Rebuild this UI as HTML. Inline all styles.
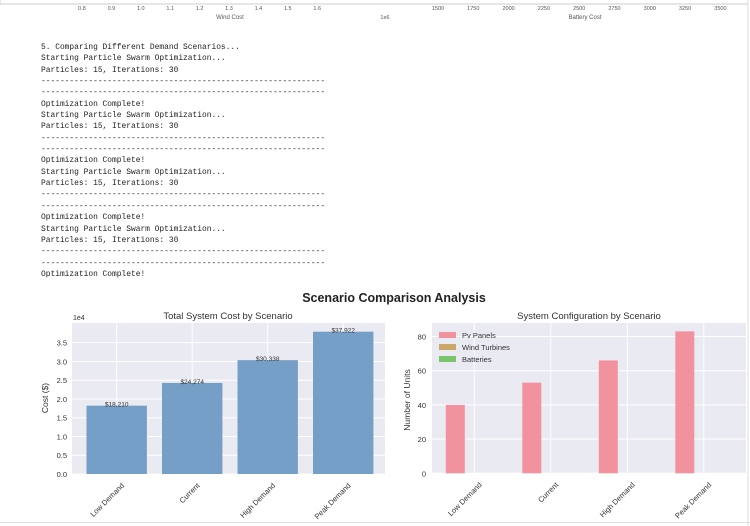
<!DOCTYPE html>
<html><head><meta charset="utf-8"><style>
body{margin:0;width:750px;height:526px;background:#fff;position:relative;overflow:hidden;font-family:"Liberation Sans",sans-serif}
#log{position:absolute;left:41px;top:42px;font-family:"Liberation Mono",monospace;font-size:7.9px;line-height:11.35px;white-space:pre;color:#222;margin:0}
svg{position:absolute;left:0;top:0}
</style></head><body>
<pre id="log">5. Comparing Different Demand Scenarios...
Starting Particle Swarm Optimization...
Particles: 15, Iterations: 30
------------------------------------------------------------
------------------------------------------------------------
Optimization Complete!
Starting Particle Swarm Optimization...
Particles: 15, Iterations: 30
------------------------------------------------------------
------------------------------------------------------------
Optimization Complete!
Starting Particle Swarm Optimization...
Particles: 15, Iterations: 30
------------------------------------------------------------
------------------------------------------------------------
Optimization Complete!
Starting Particle Swarm Optimization...
Particles: 15, Iterations: 30
------------------------------------------------------------
------------------------------------------------------------
Optimization Complete!</pre>
<svg id="chart" width="750" height="526"></svg>
<script>
const categories=["Low Demand","Current","High Demand","Peak Demand"];
const costValues=[18210,24274,30338,37922];
const costLabels=["$18,210","$24,274","$30,338","$37,922"];
const costTicks=[0,5000,10000,15000,20000,25000,30000,35000];
const pvValues=[40,53,66,83];
const windValues=[0,0,0,0];
const batteryValues=[0,0,0,0];
const unitTicks=[0,20,40,60,80];
const topTicksA=["0.8","0.9","1.0","1.1","1.2","1.3","1.4","1.5","1.6"];
const topTicksB=["1500","1750","2000","2250","2500","2750","3000","3250","3500"];

const svg=document.getElementById('chart');
const NS='http://www.w3.org/2000/svg';
function mk(tag,attrs,parent){const e=document.createElementNS(NS,tag);for(const k in attrs)e.setAttribute(k,attrs[k]);(parent||svg).appendChild(e);return e;}
function txt(s,attrs){const e=mk('text',attrs);e.textContent=s;return e;}

// top strip from previous figure
let e=mk('rect',{x:0,y:-2,width:748,height:6,fill:'#fff',stroke:'#ccc'});


topTicksA.forEach((t,i)=>{const el=txt(t,{x:82+i*29.4,y:10,'font-size':5.5,fill:'#555','text-anchor':'middle'});

});
topTicksB.forEach((t,i)=>{const el=txt(t,{x:438+i*35.3,y:10,'font-size':5.5,fill:'#555','text-anchor':'middle'});

});
e=txt('Wind Cost',{x:230,y:19,'font-size':6,fill:'#555','text-anchor':'middle'});


e=txt('1e6',{x:385,y:19,'font-size':5.5,fill:'#555','text-anchor':'middle'});


e=txt('Battery Cost',{x:585,y:19,'font-size':6,fill:'#555','text-anchor':'middle'});


e=mk('line',{x1:748,y1:0,x2:748,y2:526,stroke:'#ddd'});


e=mk('line',{x1:0,y1:522.5,x2:750,y2:522.5,stroke:'#ddd'});



e=txt('Scenario Comparison Analysis',{x:394,y:302,'font-size':12.5,'font-weight':'bold',fill:'#222','text-anchor':'middle'});



// left chart
const L={x0:72,x1:385,y0:474,top:323};
const ly=v=>L.y0-v/5000*18.76;
const lx=i=>116.7+i*75.5;
e=mk('rect',{x:L.x0,y:L.top,width:L.x1-L.x0,height:L.y0-L.top,fill:'#eaeaf2'});


costTicks.forEach(t=>{const g=mk('line',{x1:L.x0,x2:L.x1,y1:ly(t),y2:ly(t),stroke:'#fff','stroke-width':1});


const l=txt((t/10000).toFixed(1),{x:L.x0-5,y:ly(t)+3,'font-size':7.5,fill:'#333','text-anchor':'end'});

});
categories.forEach((c,i)=>{const g=mk('line',{x1:lx(i),x2:lx(i),y1:L.top,y2:L.y0,stroke:'#fff'});

});
categories.forEach((c,i)=>{
 const b=mk('rect',{x:lx(i)-30.2,y:ly(costValues[i]),width:60.4,height:L.y0-ly(costValues[i]),fill:'#759fc7'});
 
 
 const v=txt(costLabels[i],{x:lx(i),y:ly(costValues[i])+1,'font-size':6.5,fill:'#333','text-anchor':'middle'});
 
 
 const t=txt(c,{x:lx(i)+8,y:L.y0+12,'font-size':7.5,fill:'#333','text-anchor':'end',transform:`rotate(-45 ${lx(i)+8} ${L.y0+12})`});
 
 
});
e=txt('1e4',{x:73,y:320,'font-size':7,fill:'#333'});


e=txt('Total System Cost by Scenario',{x:228,y:319,'font-size':9.5,fill:'#333','text-anchor':'middle'});


e=txt('Cost ($)',{x:48,y:398,'font-size':8.5,fill:'#333','text-anchor':'middle',transform:'rotate(-90 48 398)'});



// right chart
const R={x0:432,x1:746,y0:473.3,top:323};
const ry=v=>R.y0-v*1.71;
const rx=i=>474.3+i*76.5;
const bw=19;
e=mk('rect',{x:R.x0,y:R.top,width:R.x1-R.x0,height:R.y0-R.top,fill:'#eaeaf2'});


unitTicks.forEach(t=>{const g=mk('line',{x1:R.x0,x2:R.x1,y1:ry(t),y2:ry(t),stroke:'#fff'});


const l=txt(String(t),{x:R.x0-6,y:ry(t)+3,'font-size':7.5,fill:'#333','text-anchor':'end'});

});
categories.forEach((c,i)=>{const g=mk('line',{x1:rx(i),x2:rx(i),y1:R.top,y2:R.y0,stroke:'#fff'});

});
const series=[[pvValues,'#f2929f','pv'],[windValues,'#c9a86a','wind'],[batteryValues,'#7cc46c','battery']];
series.forEach((s,k)=>{s[0].forEach((v,i)=>{
 const b=mk('rect',{x:rx(i)+(k-1)*bw-bw/2,y:ry(v),width:bw,height:R.y0-ry(v),fill:s[1]});
 
 
});});
categories.forEach((c,i)=>{const t=txt(c,{x:rx(i)+8,y:R.y0+12,'font-size':7.5,fill:'#333','text-anchor':'end',transform:`rotate(-45 ${rx(i)+8} ${R.y0+12})`});

});
const leg=[['Pv Panels','#f2929f'],['Wind Turbines','#c9a86a'],['Batteries','#7cc46c']];
leg.forEach((l,i)=>{const y=335+i*12;
 const r=mk('rect',{x:439,y:y-3,width:17,height:6,fill:l[1]});
 
 
 const t=txt(l[0],{x:462,y:y+3,'font-size':7.5,fill:'#333'});
 
 
});
e=txt('System Configuration by Scenario',{x:589,y:319,'font-size':9.5,fill:'#333','text-anchor':'middle'});


e=txt('Number of Units',{x:410,y:400,'font-size':8.5,fill:'#333','text-anchor':'middle',transform:'rotate(-90 410 400)'});


</script>
</body></html>
